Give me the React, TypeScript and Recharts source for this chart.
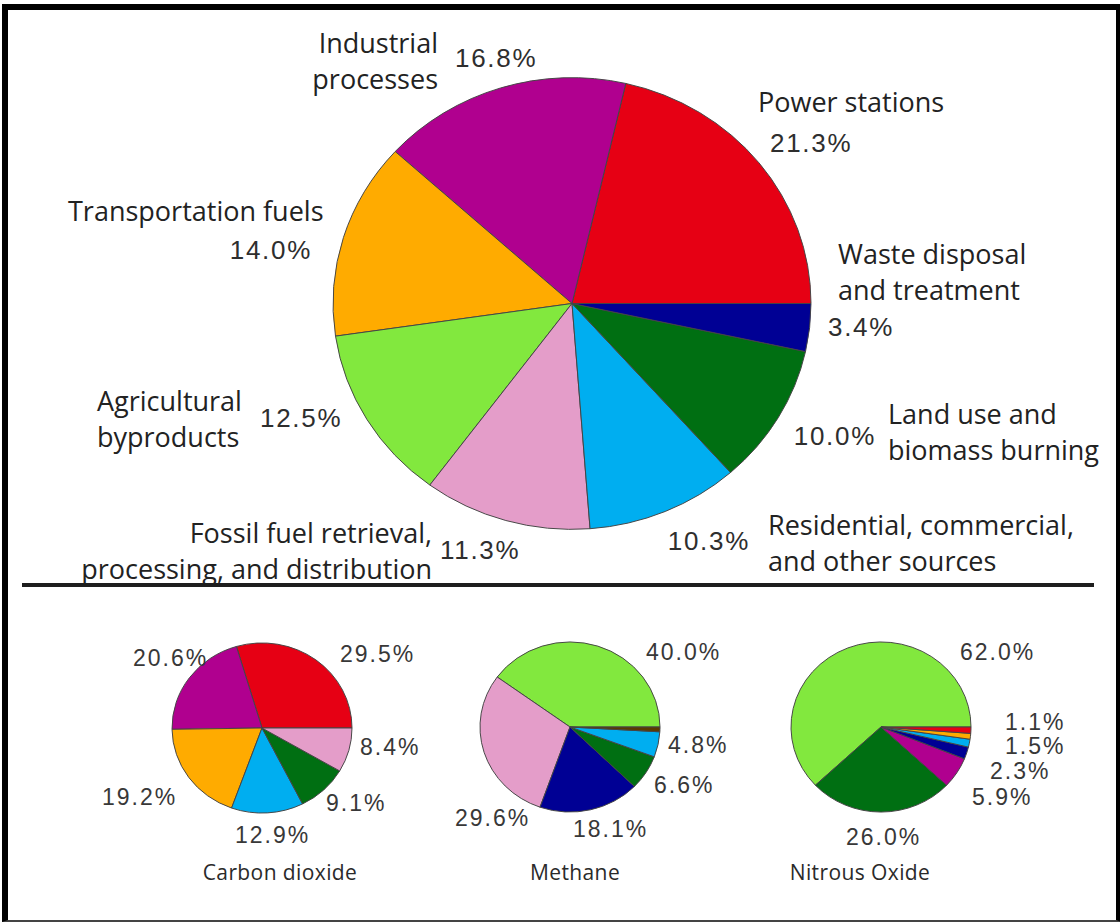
import React from 'react';
import { PieChart, Pie, Cell } from 'recharts';

// Global greenhouse gas emissions by sector (all gases), then by gas
const mainSources = [
  'Power stations',
  'Industrial\nprocesses',
  'Transportation fuels',
  'Agricultural\nbyproducts',
  'Fossil fuel retrieval,\nprocessing, and distribution',
  'Residential, commercial,\nand other sources',
  'Land use and\nbiomass burning',
  'Waste disposal\nand treatment',
];
const mainShares = [21.3, 16.8, 14.0, 12.5, 11.3, 10.3, 10.0, 3.4];

const co2Sources = ['Power stations', 'Industrial processes', 'Transportation fuels', 'Residential', 'Land use', 'Fossil fuel'];
const co2Shares = [29.5, 20.6, 19.2, 12.9, 9.1, 8.4];

const ch4Sources = ['Agricultural byproducts', 'Fossil fuel', 'Waste disposal', 'Land use', 'Residential', 'Other'];
const ch4Shares = [40.0, 29.6, 18.1, 6.6, 4.8, 0.9];

const n2oSources = ['Agricultural byproducts', 'Land use', 'Industrial processes', 'Waste disposal', 'Residential', 'Transportation fuels', 'Power stations'];
const n2oShares = [62.0, 26.0, 5.9, 2.3, 1.5, 1.1, 1.2];

const gasTitles = ['Carbon dioxide', 'Methane', 'Nitrous Oxide'];

const SECTOR_COLORS: Record<string, string> = {
  'Power stations': '#e60014',
  'Industrial processes': '#b0008f',
  'Transportation fuels': '#ffab00',
  'Agricultural byproducts': '#82e83e',
  'Fossil fuel': '#e49dc9',
  'Residential': '#00aef0',
  'Land use': '#006f12',
  'Waste disposal': '#000094',
  'Other': '#5a3a00',
};

const colorOf = (name: string) => {
  const key = Object.keys(SECTOR_COLORS).find((k) => name.replace('\n', ' ').startsWith(k));
  return key ? SECTOR_COLORS[key] : '#888';
};

// label placement (layout only)
const mainLabelPos = [
  { nx: 758, ny: 101, na: 'start', px: 770, py: 143, pa: 'start' },
  { nx: 438, ny: 42, na: 'end', px: 455, py: 58, pa: 'start' },
  { nx: 68, ny: 210, na: 'start', px: 312, py: 250, pa: 'end' },
  { nx: 97, ny: 400, na: 'start', px: 260, py: 418, pa: 'start' },
  { nx: 432, ny: 532, na: 'end', px: 440, py: 550, pa: 'start' },
  { nx: 768, ny: 524, na: 'start', px: 750, py: 541, pa: 'end' },
  { nx: 888, ny: 413, na: 'start', px: 876, py: 436, pa: 'end' },
  { nx: 838, ny: 253, na: 'start', px: 828, py: 327, pa: 'start' },
];
const co2LabelPos = [[340, 654], [133, 658], [102, 797], [235, 835], [326, 803], [360, 747]];
const ch4LabelPos = [[646, 652], [455, 818], [573, 829], [654, 785], [668, 745], null];
const n2oLabelPos = [[960, 652], [846, 837], [972, 797], [990, 771], [1005, 746], [1005, 722], null];
const titlePos = [[280, 872], [575, 872], [860, 872]];

const SQUASH = 0.945;

const toData = (names: string[], values: number[]) =>
  names.map((name, i) => ({ name, value: values[i] }));

const mainData = toData(mainSources, mainShares);
const smallPies = [
  { data: toData(co2Sources, co2Shares), cx: 262, cy: 728, pos: co2LabelPos },
  { data: toData(ch4Sources, ch4Shares), cx: 570, cy: 727, pos: ch4LabelPos },
  { data: toData(n2oSources, n2oShares), cx: 881, cy: 727, pos: n2oLabelPos },
];

const nameFont = { fontFamily: "'Open Sans', sans-serif", fontSize: 27, fill: '#222' };
const pctFont = { fontFamily: "'Liberation Sans', Arial, sans-serif", fontSize: 26, letterSpacing: 1.7, fill: '#2e2e2e' };
const smallPctFont = { fontFamily: "'Liberation Sans', Arial, sans-serif", fontSize: 23, letterSpacing: 2, fill: '#383838' };
const titleFont = { fontFamily: "'Open Sans', sans-serif", fontSize: 21, letterSpacing: 0.4, fill: '#2a2a2a' };

export default function App() {
  return (
    <div style={{ position: 'fixed', left: 0, top: 0, width: 1120, height: 922, background: '#fff', overflow: 'hidden' }}>
      {/* pies, slightly squashed vertically like the source image */}
      <div style={{ position: 'absolute', left: 0, top: 0, transform: `scaleY(${SQUASH})`, transformOrigin: '0 0' }}>
        <PieChart width={1120} height={Math.round(922 / SQUASH)} margin={{ top: 0, right: 0, bottom: 0, left: 0 }}>
          <Pie
            data={mainData}
            dataKey="value"
            nameKey="name"
            cx={572}
            cy={303.5 / SQUASH}
            outerRadius={239}
            startAngle={0}
            endAngle={360}
            stroke="#444"
            strokeWidth={1}
            isAnimationActive={false}
          >
            {mainData.map((d, i) => (
              <Cell key={`m-${i}`} fill={colorOf(d.name)} />
            ))}
          </Pie>
          {smallPies.map((p, k) => (
            <Pie
              key={`p-${k}`}
              data={p.data}
              dataKey="value"
              nameKey="name"
              cx={p.cx}
              cy={p.cy / SQUASH}
              outerRadius={90}
              startAngle={0}
              endAngle={360}
              stroke="#444"
              strokeWidth={1}
              isAnimationActive={false}
            >
              {p.data.map((d, i) => (
                <Cell key={`s-${k}-${i}`} fill={colorOf(d.name)} />
              ))}
            </Pie>
          ))}
        </PieChart>
      </div>

      {/* labels */}
      <svg width={1120} height={922} style={{ position: 'absolute', left: 0, top: 0, pointerEvents: 'none' }}>
        {mainData.map((d, i) => {
          const p = mainLabelPos[i];
          const lines = d.name.split('\n');
          return (
            <g key={`ml-${i}`}>
              {lines.map((ln, j) => (
                <text key={j} x={p.nx} y={p.ny + j * 36.5} textAnchor={p.na as any} dominantBaseline="central" {...nameFont}>
                  {ln}
                </text>
              ))}
              <text x={p.px} y={p.py} textAnchor={p.pa as any} dominantBaseline="central" {...pctFont}>
                {`${d.value.toFixed(1)}%`}
              </text>
            </g>
          );
        })}
        {smallPies.map((p, k) => (
          <g key={`sl-${k}`}>
            {p.data.map((d, i) => {
              const pos = p.pos[i];
              if (!pos) return null;
              return (
                <text key={i} x={pos[0]} y={pos[1]} dominantBaseline="central" {...smallPctFont}>
                  {`${d.value.toFixed(1)}%`}
                </text>
              );
            })}
            <text x={titlePos[k][0]} y={titlePos[k][1]} textAnchor="middle" dominantBaseline="central" {...titleFont}>
              {gasTitles[k]}
            </text>
          </g>
        ))}
      </svg>

      {/* separator and frame */}
      <div style={{ position: 'absolute', left: 22, top: 583, width: 1072, height: 4, background: '#1e1e1e' }} />
      <div
        style={{
          position: 'absolute',
          left: 2,
          top: 4,
          width: 1108,
          height: 910,
          borderTop: '6px solid #000',
          borderLeft: '6px solid #000',
          borderRight: '5px solid #000',
          borderBottom: '2px solid #444',
        }}
      />
    </div>
  );
}
